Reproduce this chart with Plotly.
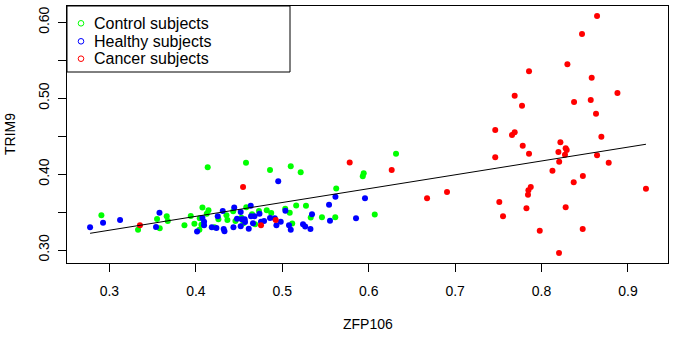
import numpy as np
import plotly.graph_objects as go

# ---- data ----
healthy_x = [0.2776, 0.2926, 0.3123, 0.3579, 0.3539, 0.4014, 0.4076, 0.4095, 0.4095, 0.4184,
             0.4238, 0.4253, 0.4311, 0.4322, 0.4331, 0.4435, 0.4444, 0.4476, 0.4519, 0.4519,
             0.4531, 0.4565, 0.4569, 0.4612, 0.4635, 0.4638, 0.4661, 0.4678, 0.4736, 0.4754,
             0.4789, 0.4858, 0.4913, 0.4932, 0.4953, 0.4982, 0.5036, 0.5078, 0.5098, 0.5240,
             0.5265, 0.5326, 0.5344, 0.5541, 0.5552, 0.5615, 0.5853, 0.5957]
healthy_y = [0.3299, 0.3360, 0.3395, 0.3491, 0.3303, 0.3244, 0.3422, 0.3373, 0.3325, 0.3299,
             0.3290, 0.3444, 0.3514, 0.3277, 0.3246, 0.3299, 0.3560, 0.3412, 0.3501, 0.3312,
             0.3405, 0.3405, 0.3369, 0.3281, 0.3582, 0.3444, 0.3352, 0.3444, 0.3478, 0.3373,
             0.3382, 0.3422, 0.3418, 0.3325, 0.3905, 0.3373, 0.3518, 0.3325, 0.3267, 0.3339,
             0.3310, 0.3277, 0.3470, 0.3596, 0.3386, 0.3702, 0.3418, 0.3681]

control_x = [0.2907, 0.3331, 0.3551, 0.3582, 0.3663, 0.3675, 0.3868, 0.3941, 0.3983, 0.4041,
             0.4045, 0.4064, 0.4076, 0.4126, 0.4146, 0.4137, 0.4215, 0.4261, 0.4354, 0.4365,
             0.4432, 0.4458, 0.4527, 0.4550, 0.4583, 0.4580, 0.4650, 0.4685, 0.4730, 0.4820,
             0.4858, 0.4872, 0.5034, 0.5086, 0.5098, 0.5115, 0.5161, 0.5213, 0.5274, 0.5329,
             0.5459, 0.5613, 0.5624, 0.5931, 0.5942, 0.6070, 0.6316]
control_y = [0.3457, 0.3267, 0.3408, 0.3286, 0.3444, 0.3382, 0.3325, 0.3448, 0.3347, 0.3267,
             0.3418, 0.3333, 0.3560, 0.3478, 0.3523, 0.4091, 0.3299, 0.3405, 0.3457, 0.3395,
             0.3510, 0.3382, 0.3426, 0.3352, 0.3564, 0.4150, 0.3470, 0.3339, 0.3514, 0.3524,
             0.4054, 0.3488, 0.3543, 0.3490, 0.4103, 0.3349, 0.3586, 0.4024, 0.3584, 0.3428,
             0.3432, 0.3432, 0.3810, 0.3971, 0.4011, 0.3468, 0.4269]

cancer_x = [0.3353, 0.4546, 0.4754, 0.4924, 0.5780, 0.6266, 0.6675, 0.6906, 0.7464, 0.7464,
            0.7511, 0.7554, 0.7658, 0.7689, 0.7689, 0.7774, 0.7782, 0.7825, 0.7843, 0.7848,
            0.7875, 0.7855, 0.7855, 0.7979, 0.8126, 0.8195, 0.8204, 0.8202, 0.8218, 0.8271,
            0.8279, 0.8291, 0.8279, 0.8299, 0.8372, 0.8376, 0.8468, 0.8478, 0.8476, 0.8569,
            0.8580, 0.8630, 0.8642, 0.8642, 0.8692, 0.8777, 0.8878, 0.9208]
cancer_y = [0.3327, 0.3830, 0.3325, 0.3395, 0.4153, 0.4054, 0.3681, 0.3764, 0.4581, 0.4221,
            0.3632, 0.3444, 0.4515, 0.4551, 0.5033, 0.4901, 0.4374, 0.3549, 0.3729, 0.3787,
            0.3830, 0.4269, 0.5354, 0.3254, 0.4045, 0.4291, 0.4162, 0.2960, 0.4419, 0.4256,
            0.4340, 0.4318, 0.3563, 0.5447, 0.3892, 0.4950, 0.5846, 0.3975, 0.3277, 0.4976,
            0.5270, 0.4796, 0.4248, 0.6083, 0.4493, 0.4150, 0.5069, 0.3808]

# fitted line as drawn in the reference (intercept, slope)
fit_intercept = 0.2714
fit_slope = 0.1824

group_names = ["Control subjects", "Healthy subjects", "Cancer subjects"]
group_colors = ["#00FF00", "#0000FF", "#FF0000"]
x_ticks = [0.3, 0.4, 0.5, 0.6, 0.7, 0.8, 0.9]
y_ticks = [0.3, 0.4, 0.5, 0.6]
y_tick_labels = ["0.30", "0.40", "0.50", "0.60"]

# ---- figure ----
W, H = 683, 345
ML, MR, MT, MB = 67, 15, 6, 82
PW, PH = W - ML - MR, H - MT - MB

fig = go.Figure()
for xs, ys, col in [(control_x, control_y, group_colors[0]),
                    (healthy_x, healthy_y, group_colors[1]),
                    (cancer_x, cancer_y, group_colors[2])]:
    fig.add_trace(go.Scatter(x=xs, y=ys, mode="markers", showlegend=False,
                             marker=dict(color=col, size=6, line=dict(width=0))))

all_x = np.array(control_x + healthy_x + cancer_x)
lx = np.array([all_x.min(), all_x.max()])
fig.add_trace(go.Scatter(x=lx, y=fit_intercept + fit_slope * lx, mode="lines", showlegend=False,
                         line=dict(color="black", width=1)))

font_family = "Liberation Sans, Arial, sans-serif"

def px2paper_x(px):
    return (px - ML) / PW

def px2paper_y(py):
    return (H - MB - py) / PH

shapes = []
annotations = []
# legend box
shapes.append(dict(type="rect", xref="paper", yref="paper",
                   x0=px2paper_x(67), x1=px2paper_x(290),
                   y0=px2paper_y(72), y1=px2paper_y(6),
                   line=dict(color="black", width=1), fillcolor="white", layer="above"))
for i, (name, col) in enumerate(zip(group_names, group_colors)):
    cy = [23.3, 41.3, 58.7][i]
    r = 2.8
    shapes.append(dict(type="circle", xref="paper", yref="paper",
                       x0=px2paper_x(81 - r), x1=px2paper_x(81 + r),
                       y0=px2paper_y(cy + r), y1=px2paper_y(cy - r),
                       line=dict(color=col, width=1), layer="above"))
    annotations.append(dict(text=name, xref="paper", yref="paper",
                            x=px2paper_x(92), y=px2paper_y(cy), xanchor="left", yanchor="middle",
                            showarrow=False, font=dict(size=16, color="black", family=font_family)))

annotations.append(dict(text="ZFP106", xref="paper", yref="paper", x=0.5, y=px2paper_y(324),
                        xanchor="center", yanchor="middle", showarrow=False,
                        font=dict(size=14, color="black", family=font_family)))
annotations.append(dict(text="TRIM9", xref="paper", yref="paper", x=px2paper_x(9.5), y=0.5,
                        xanchor="center", yanchor="middle", showarrow=False, textangle=-90,
                        font=dict(size=14, color="black", family=font_family)))

fig.update_layout(
    width=W, height=H, margin=dict(l=ML, r=MR, t=MT, b=MB),
    paper_bgcolor="white", plot_bgcolor="white",
    font=dict(family=font_family, size=14, color="black"),
    shapes=shapes, annotations=annotations, showlegend=False,
    xaxis=dict(range=[0.2509, 0.9463], tickvals=x_ticks, ticktext=[str(v) for v in x_ticks],
               ticks="outside", ticklen=8, tickcolor="black", showline=True, linecolor="black",
               linewidth=1, mirror=True, showgrid=False, zeroline=False,
               ticklabelstandoff=7, tickfont=dict(size=14, color="black")),
    yaxis=dict(range=[0.2829, 0.6215], tickvals=y_ticks, ticktext=y_tick_labels,
               ticks="outside", ticklen=8, tickcolor="black", showline=True, linecolor="black",
               linewidth=1, mirror=True, showgrid=False, zeroline=False, tickangle=-90,
               ticklabelstandoff=3, tickfont=dict(size=14, color="black"),
               minor=dict(tickvals=[0.35, 0.45, 0.55], ticks="outside", ticklen=8,
                          tickcolor="black", showgrid=False)),
)

fig.write_html("out.html", config={"displayModeBar": False},
               post_script="document.body.style.margin='0px';")
